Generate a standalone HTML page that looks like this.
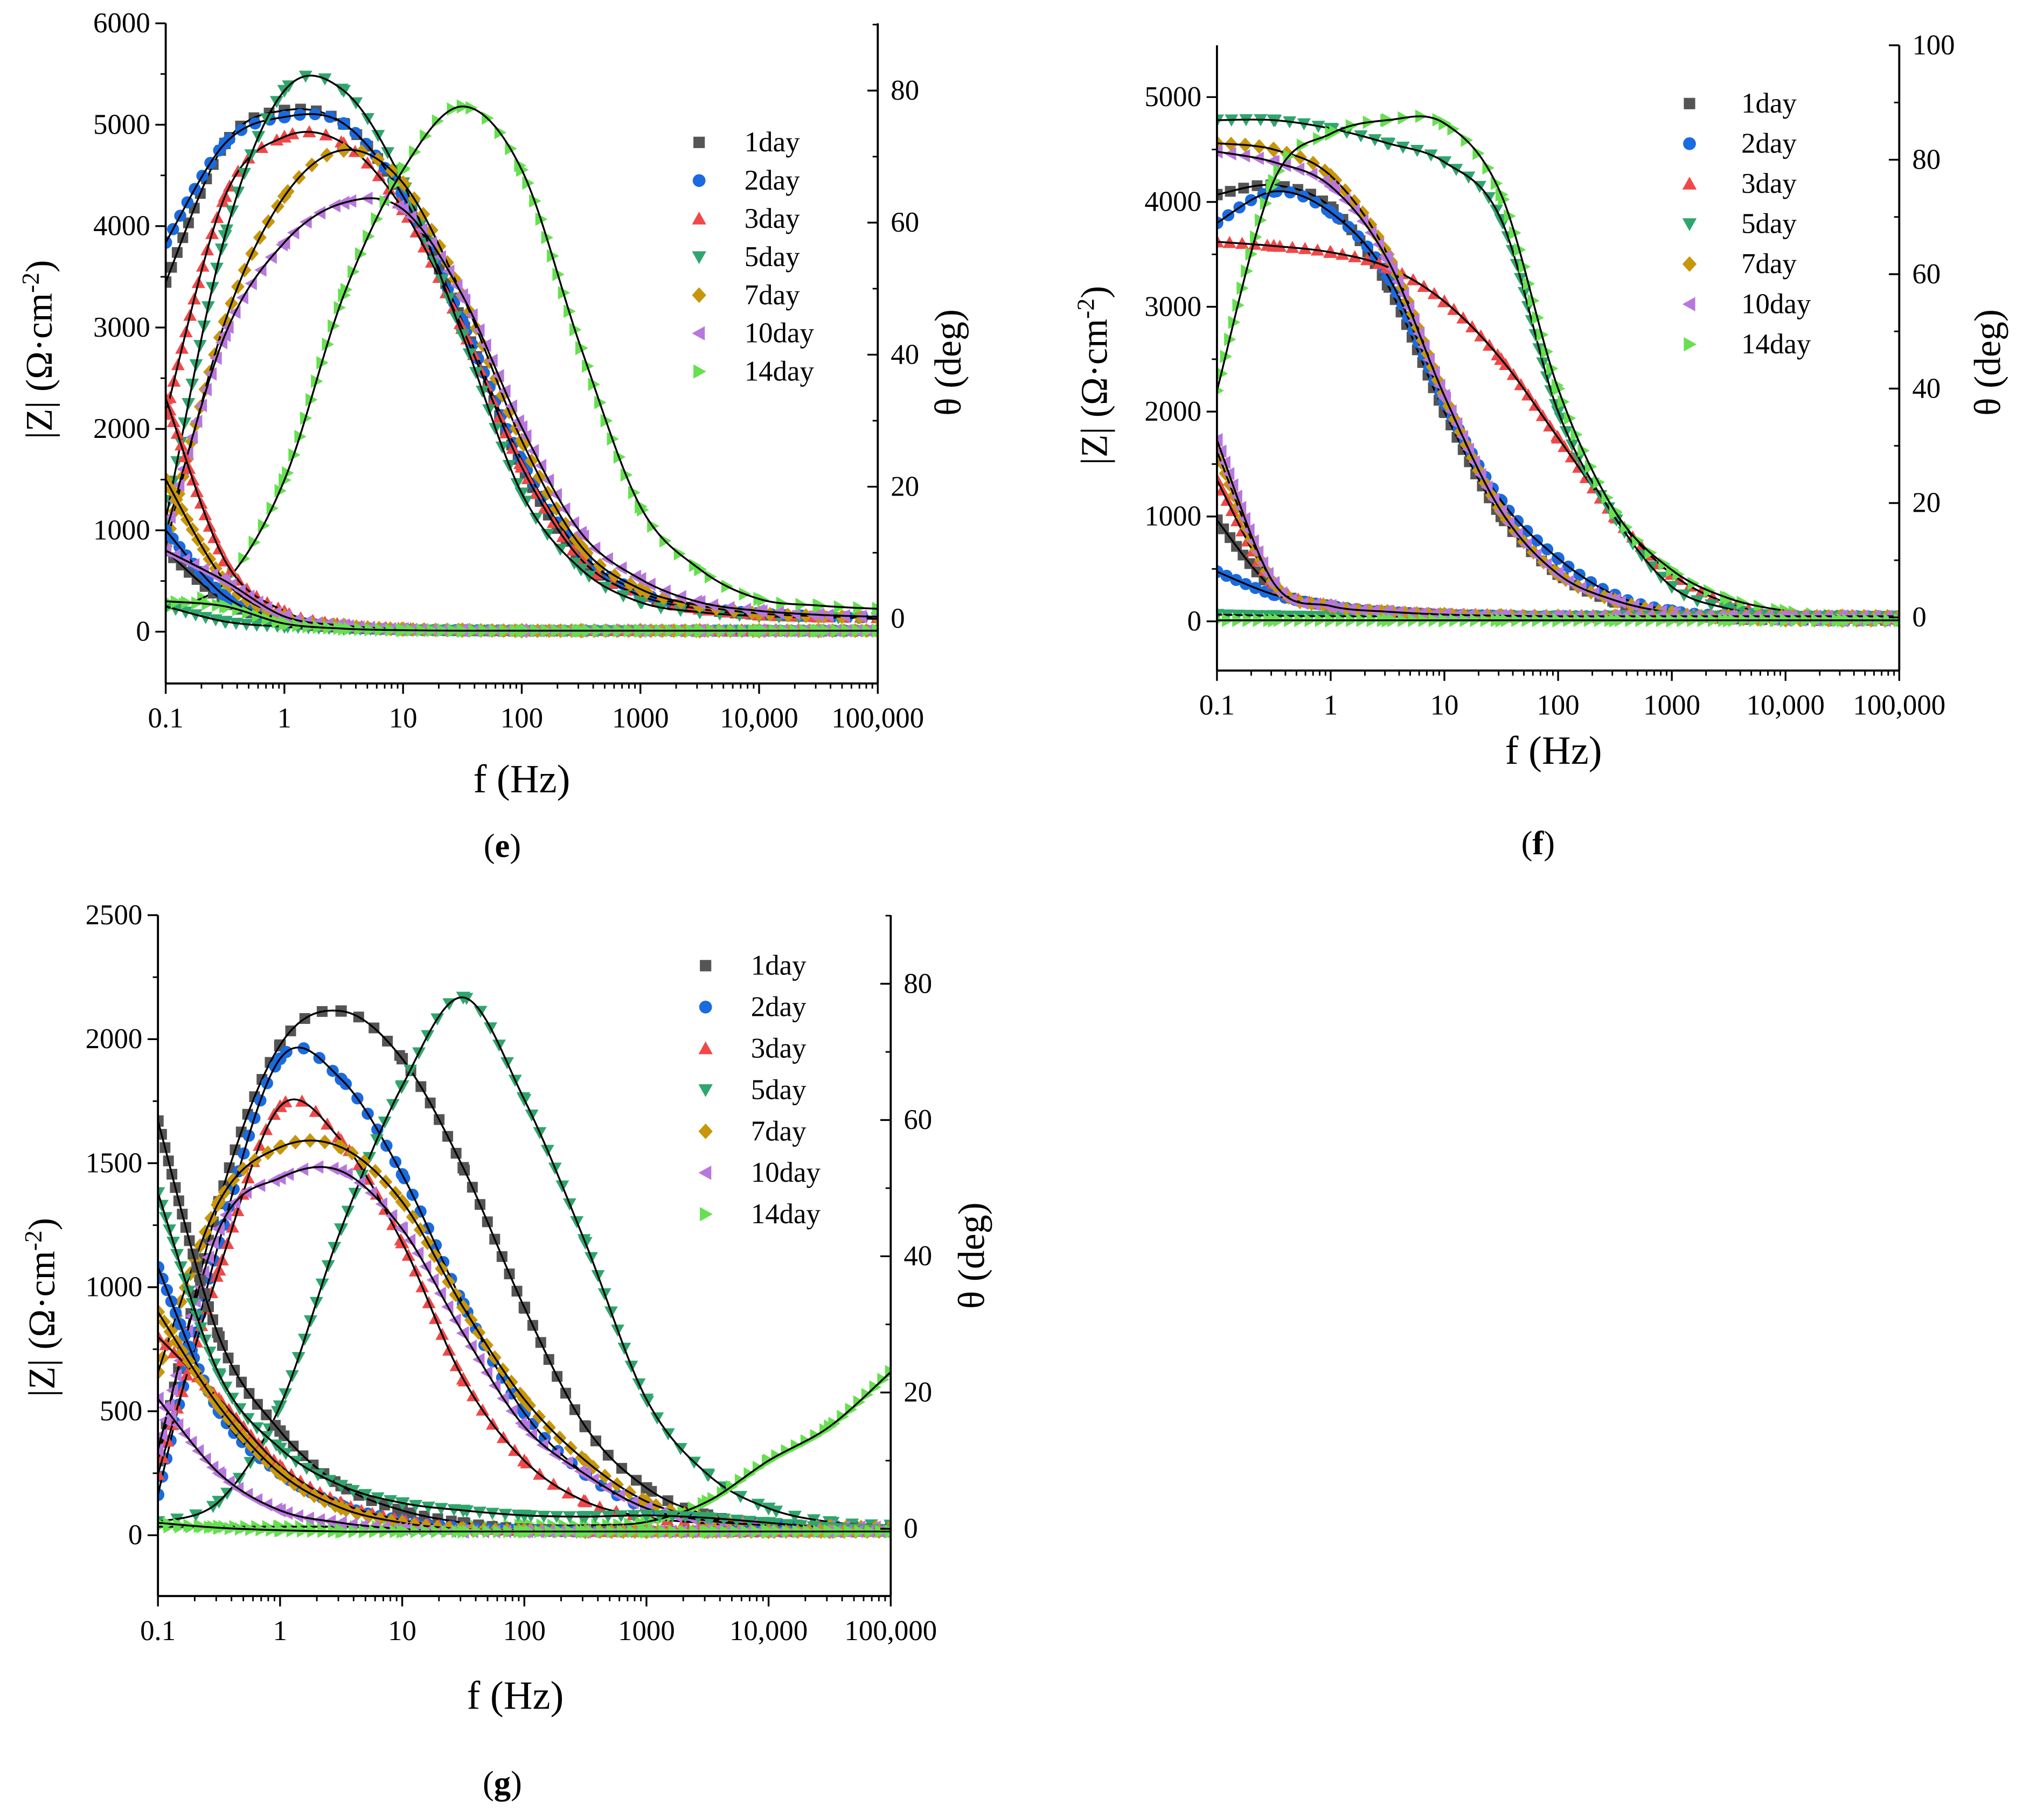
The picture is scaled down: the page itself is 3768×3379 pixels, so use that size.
<!DOCTYPE html>
<html><head><meta charset="utf-8"><style>
html,body{margin:0;padding:0;background:#fff}
svg{display:block}
text{font-family:"Liberation Serif","DejaVu Serif",serif;fill:#000}
</style></head><body>
<svg id="fig" width="3768" height="3379" viewBox="0 0 1568 1406" preserveAspectRatio="none" font-family="Liberation Serif, serif" xmlns="http://www.w3.org/2000/svg"></svg>
<script>
const freqs=[0.1,0.316,1,3.16,10,31.6,100,316,1000,3162,10000,31623,100000];
const seriesNames=["1day","2day","3day","5day","7day","10day","14day"];
const colors=["#555555","#1a6be0","#f04848","#2fa66e","#c8960a","#b877dd","#66e050"];
const shapes=["sq","ci","tu","td","di","tl","tr"];
// panel e: phase (deg) bells, |Z| (ohm) small curves
const eUpper=[[51,72,77,75,64,45,23,9,3.5,1.5,0.6,0.3,0.2],[57,72,76,75,64,45,24,10,4,1.8,0.8,0.4,0.2],[31,64,73,72,62,44,23,9,3.5,1.5,0.6,0.3,0.2],[15,58,80,80,66,43,19,7.5,2.5,1,0.4,0.2,0.1],[11,45,64,71,66,49,27,11,4.5,2,0.8,0.4,0.2],[13,43,57,63,62,49,29,13,6,2.5,1.2,0.6,0.3],[1.5,5.5,21,49,68,77.6,68,41,17,7.5,3,2,1.5]];
const eLower=[[800,300,100,40,20,10,10,10,10,10,10,10,10],[1000,350,120,50,20,15,10,10,10,10,10,10,10],[2300,700,200,70,30,15,10,10,10,10,10,10,10],[250,100,50,30,20,15,10,10,10,10,10,10,10],[1500,500,150,60,25,15,10,10,10,10,10,10,10],[800,500,150,60,25,15,10,10,10,10,10,10,10],[300,250,80,30,15,10,10,10,10,10,10,10,10]];
// panel f: |Z| (ohm) plateaus, phase (deg) small
const fUpper=[[4070,4160,3950,3210,2000,1000,450,185,75,25,15,10,10],[3800,4100,3900,3300,2100,1150,600,250,100,50,20,10,10],[3620,3580,3520,3380,3050,2500,1750,1000,450,170,60,30,20],[4780,4780,4700,4560,4380,3830,2000,990,330,120,50,20,10],[4560,4500,4250,3500,2150,1050,450,200,80,30,15,10,10],[4480,4380,4150,3450,2150,1050,450,200,80,30,15,10,10],[2200,4200,4650,4780,4750,4070,2220,1050,490,220,100,50,30]];
const fLower=[[17,5,2,1,0.5,0.3,0.2,0.2,0.2,0.2,0.2,0.2,0.2],[8,4,2,1,0.5,0.3,0.2,0.2,0.2,0.2,0.2,0.2,0.2],[24,6,2,1,0.5,0.3,0.2,0.2,0.2,0.2,0.2,0.2,0.2],[0.5,0.3,0.2,0.2,0.2,0.2,0.2,0.2,0.2,0.2,0.2,0.2,0.2],[29,6,2,1,0.5,0.3,0.2,0.2,0.2,0.2,0.2,0.2,0.2],[31,6,2,1,0.5,0.3,0.2,0.2,0.2,0.2,0.2,0.2,0.2],[-0.5,-0.5,-0.5,-0.5,-0.5,-0.5,-0.5,-0.5,-0.5,-0.5,-0.5,-0.5,-0.5]];
// panel g: phase (deg) bells, |Z| (ohm) small
const gUpper=[[10,48,71,76,69,53,32.5,15,6,2,0.8,0.4,0.2],[5,42,69,66,52,33,17,8,3,1.5,0.5,0.3,0.2],[8,38,62,57,42,22,10,4,1.7,0.8,0.4,0.2,0.1],[1,4,18,44,65,78,63,42,19,8,3,1,0.5],[23,48,56,56,48,32.5,19,10,4,1.5,0.5,0.3,0.2],[11.6,44,51.5,52.5,44,28.7,15,8,3,1.2,0.5,0.3,0.2],[0.3,0.3,0.3,0.3,0.3,0.3,0.5,0.5,1,4,10,15,23]];
const gLower=[[1670,800,420,200,100,50,25,15,15,15,15,15,15],[1080,500,250,120,60,30,20,15,15,15,15,15,15],[800,550,280,130,60,30,20,15,15,15,15,15,15],[1380,650,350,200,130,100,80,75,80,70,50,30,20],[900,520,250,110,50,25,20,15,15,15,15,15,15],[550,250,100,50,25,15,15,15,15,15,15,15,15],[50,30,20,15,15,15,15,15,15,15,15,15,15]];
const xTicks=["0.1","1","10","100","1000","10,000","100,000"];

const NS="http://www.w3.org/2000/svg";
const svg=document.getElementById('fig');
function mk(tag,attrs,parent){const e=document.createElementNS(NS,tag);for(const k in attrs)e.setAttribute(k,attrs[k]);(parent||svg).appendChild(e);return e;}

const panels=[
 {id:"e",x0:128,x1:678,y0:18,y1:528,L:{v0:0,p0:488,v1:6000,p1:18,ticks:[0,1000,2000,3000,4000,5000,6000]},R:{v0:0,p0:478,v1:80,p1:70,ticks:[0,20,40,60,80]},upper:eUpper,upperAxis:"R",lower:eLower,lowerAxis:"L",leg:{mx:540,tx:575,y:110,dy:29.5},lab:{lx:40,ly:270,rx:742,ry:280,xx:403,xy:612,px:388,py:662,name:"e"}},
 {id:"f",x0:940,x1:1467,y0:35,y1:518,L:{v0:0,p0:480,v1:5000,p1:75,ticks:[0,1000,2000,3000,4000,5000]},R:{v0:0,p0:477,v1:100,p1:35,ticks:[0,20,40,60,80,100]},upper:fUpper,upperAxis:"L",lower:fLower,lowerAxis:"R",leg:{mx:1305,tx:1345,y:80,dy:31},lab:{lx:855,ly:290,rx:1545,ry:280,xx:1200,xy:590,px:1188,py:660,name:"f"}},
 {id:"g",x0:122,x1:688,y0:707,y1:1233,L:{v0:0,p0:1186,v1:2500,p1:707,ticks:[0,500,1000,1500,2000,2500]},R:{v0:0,p0:1181,v1:80,p1:760,ticks:[0,20,40,60,80]},upper:gUpper,upperAxis:"R",lower:gLower,lowerAxis:"L",leg:{mx:545,tx:580,y:746,dy:32},lab:{lx:42,ly:1010,rx:760,ry:970,xx:398,xy:1320,px:388,py:1386,name:"g"}}
];

function marker(g,shape,x,y,c,s){
 if(shape==="sq")return mk('rect',{x:x-s*0.8,y:y-s*0.8,width:s*1.6,height:s*1.6,fill:c},g);
 if(shape==="ci")return mk('circle',{cx:x,cy:y,r:s*0.9,fill:c},g);
 let p;
 if(shape==="tu")p=[[x,y-s],[x+s,y+s*0.8],[x-s,y+s*0.8]];
 if(shape==="td")p=[[x,y+s],[x+s,y-s*0.8],[x-s,y-s*0.8]];
 if(shape==="di")p=[[x,y-s*1.1],[x+s,y],[x,y+s*1.1],[x-s,y]];
 if(shape==="tl")p=[[x-s,y],[x+s*0.8,y-s],[x+s*0.8,y+s]];
 if(shape==="tr")p=[[x+s,y],[x-s*0.8,y-s],[x-s*0.8,y+s]];
 return mk('polygon',{points:p.map(a=>a.join(',')).join(' '),fill:c},g);
}
function smoothPath(pts){
 let d="M"+pts[0][0]+","+pts[0][1];
 for(let i=0;i<pts.length-1;i++){
  const p0=pts[Math.max(0,i-1)],p1=pts[i],p2=pts[i+1],p3=pts[Math.min(pts.length-1,i+2)];
  const c1=[p1[0]+(p2[0]-p0[0])/6,p1[1]+(p2[1]-p0[1])/6],c2=[p2[0]-(p3[0]-p1[0])/6,p2[1]-(p3[1]-p1[1])/6];
  d+=" C"+c1.join(",")+" "+c2.join(",")+" "+p2.join(",");
 }
 return d;
}

panels.forEach(P=>{
 const g=mk('g',{});
 
 
 const xs=f=>P.x0+(Math.log10(f)+1)/6*(P.x1-P.x0);
 const ax=A=>v=>A.p0+(v-A.v0)/(A.v1-A.v0)*(A.p1-A.p0);
 const yL=ax(P.L),yR=ax(P.R);
 const cid='clip'+P.id;
 const cp=mk('clipPath',{id:cid},g);mk('rect',{x:P.x0,y:P.y0,width:P.x1-P.x0,height:P.y1-P.y0},cp);
 const plot=mk('g',{'clip-path':'url(#'+cid+')'},g);
 
 
 const sets=[[P.upper,P.upperAxis==="L"?yL:yR,'upper'],[P.lower,P.lowerAxis==="L"?yL:yR,'lower']];
 sets.forEach(([data,ys,kind])=>{
  data.forEach((vals,si)=>{
   const sg=mk('g',{},plot);
   
   
   const pts=vals.map((v,i)=>[xs(freqs[i]),ys(v)]);
   pts.forEach(p=>{const m=marker(sg,shapes[si],p[0],p[1],colors[si],5.5);});
   const path=mk('path',{d:smoothPath(pts),fill:'none',stroke:'#000','stroke-width':1.4},sg);
   
   
   const len=path.getTotalLength();
   const n=Math.round((P.x1-P.x0)/8);
   for(let k=1;k<n;k++){
    const q=path.getPointAtLength(len*k/n);
    const m=marker(sg,shapes[si],q.x,q.y,colors[si],5.2);
    
    
   }
   sg.appendChild(path);
  });
 });
 const fr=mk('g',{stroke:'#000','stroke-width':1.6,fill:'none'},g);
 
 
 mk('line',{x1:P.x0,y1:P.y0,x2:P.x0,y2:P.y1},fr);
 mk('line',{x1:P.x1,y1:P.y0,x2:P.x1,y2:P.y1},fr);
 mk('line',{x1:P.x0,y1:P.y1,x2:P.x1,y2:P.y1},fr);
 const xa=mk('g',{},g);
 
 
 for(let d=0;d<6;d++){for(let m=2;m<10;m++){const x=xs(Math.pow(10,d-1)*m);mk('line',{x1:x,y1:P.y1,x2:x,y2:P.y1+4,stroke:'#000','stroke-width':1.2},xa);}}
 xTicks.forEach((t,i)=>{const x=xs(Math.pow(10,i-1));mk('line',{x1:x,y1:P.y1,x2:x,y2:P.y1+8,stroke:'#000','stroke-width':1.4},xa);const tx=mk('text',{x:x,y:P.y1+34,'font-size':22,'text-anchor':'middle'},xa);tx.textContent=t;});
 const la=mk('g',{},g);
 
 
 P.L.ticks.forEach((t,i)=>{const y=yL(t);mk('line',{x1:P.x0-8,y1:y,x2:P.x0,y2:y,stroke:'#000','stroke-width':1.4},la);
  if(i<P.L.ticks.length-1){const ym=yL(t+(P.L.ticks[1]-P.L.ticks[0])/2);mk('line',{x1:P.x0-4,y1:ym,x2:P.x0,y2:ym,stroke:'#000','stroke-width':1.2},la);}
  const tx=mk('text',{x:P.x0-12,y:y+7,'font-size':22,'text-anchor':'end'},la);tx.textContent=t;});
 const ra=mk('g',{},g);
 
 
 P.R.ticks.forEach((t,i)=>{const y=yR(t);mk('line',{x1:P.x1-8,y1:y,x2:P.x1,y2:y,stroke:'#000','stroke-width':1.4},ra);
  const ym=yR(t+10);if(ym>P.y0)mk('line',{x1:P.x1-4,y1:ym,x2:P.x1,y2:ym,stroke:'#000','stroke-width':1.2},ra);
  const tx=mk('text',{x:P.x1+10,y:y+7,'font-size':22},ra);tx.textContent=t;});
 const L=P.lab;
 const yl=mk('text',{x:0,y:0,'font-size':29,'text-anchor':'middle',transform:`translate(${L.lx},${L.ly}) rotate(-90)`},g);
 
 
 yl.innerHTML='|Z| (Ω·cm<tspan dy="-10" font-size="19">-2</tspan><tspan dy="10">)</tspan>';
 const yr=mk('text',{x:0,y:0,'font-size':29,'text-anchor':'middle',transform:`translate(${L.rx},${L.ry}) rotate(-90)`},g);
 
 
 yr.textContent='θ (deg)';
 const xl=mk('text',{x:L.xx,y:L.xy,'font-size':31,'text-anchor':'middle'},g);
 
 
 xl.textContent='f (Hz)';
 const pl=mk('text',{x:L.px,y:L.py,'font-size':26,'text-anchor':'middle'},g);
 
 
 pl.innerHTML='(<tspan font-weight="bold">'+L.name+'</tspan>)';
 const lg=mk('g',{},g);
 
 
 seriesNames.forEach((n,i)=>{const y=P.leg.y+i*P.leg.dy;
  const e=mk('g',{},lg);
  
  
  marker(e,shapes[i],P.leg.mx,y,colors[i],5.5);
  const t=mk('text',{x:P.leg.tx,y:y+7,'font-size':22},e);t.textContent=n;});
});
</script>
</body></html>
